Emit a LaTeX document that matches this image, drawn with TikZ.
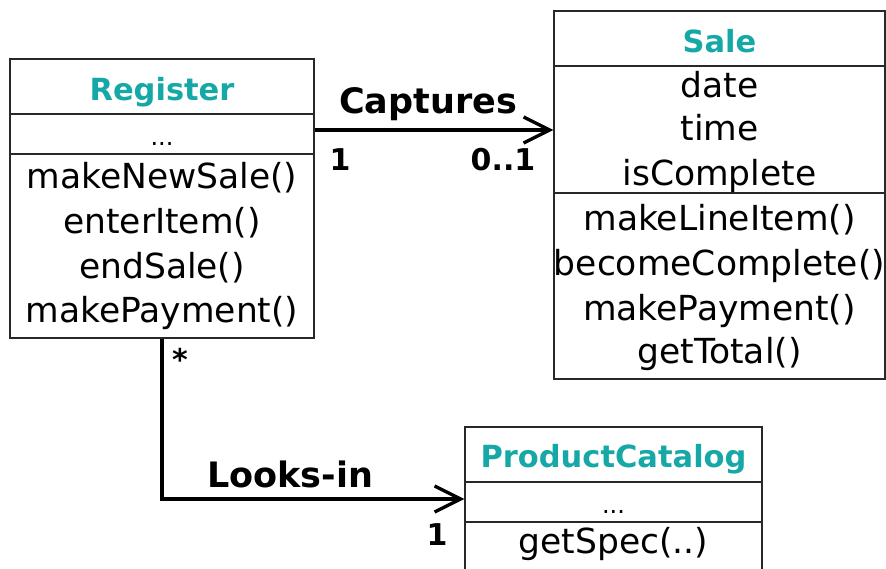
\documentclass[tikz,border=0pt]{standalone}
\usepackage{fontspec}
\usetikzlibrary{arrows.meta}
\newfontfamily\umlfamily{DejaVu Sans}
\newcommand\umlbody{\umlfamily\fontsize{34.5}{40}\selectfont}
\newcommand\umltitle{\umlfamily\bfseries\fontsize{30.5}{36}\selectfont}
\newcommand\umllabel{\umlfamily\bfseries\fontsize{35}{42}\selectfont}
\newcommand\umlmult{\umlfamily\bfseries\fontsize{30}{36}\selectfont}
\newcommand\umldots{\umlfamily\fontsize{24}{28}\selectfont}
\definecolor{classname}{RGB}{22,168,166}
\definecolor{boxline}{RGB}{40,40,40}
\tikzset{
  classbox/.style={draw=boxline, line width=1.2pt, rectangle, inner sep=0pt},
  divider/.style={draw=boxline, line width=1.2pt},
  classtitle/.style={font=\umltitle, text=classname, anchor=base, inner sep=0pt},
  member/.style={font=\umlbody, anchor=base, inner sep=0pt},
  emptyrow/.style={font=\umldots, anchor=base, inner sep=0pt},
  assoc/.style={line width=3.4pt, -{Straight Barb[length=26pt,width=26pt]}},
  assoclabel/.style={font=\umllabel, anchor=base, inner sep=0pt},
  mult/.style={font=\umlmult, anchor=base, inner sep=0pt}
}
\begin{document}
\begin{tikzpicture}[x=1pt,y=-1pt]
  \useasboundingbox (0,0) rectangle (886,568);
  \clip (0,0) rectangle (886,568);

  % Register
  \node[classbox, minimum width=304pt, minimum height=279pt] (reg) at (162,198.5) {};
  \draw[divider] (reg.west |- 0,114) -- (reg.east |- 0,114);
  \draw[divider] (reg.west |- 0,154) -- (reg.east |- 0,154);
  \node[classtitle] (regname) at (162,100) {Register};
  \node[emptyrow] (regattr) at (162,145) {...};
  \node[member] (regop1) at (162,188) {makeNewSale()};
  \node[member] (regop2) at (162,233) {enterItem()};
  \node[member] (regop3) at (162,278) {endSale()};
  \node[member] (regop4) at (162,322) {makePayment()};

  % Sale
  \node[classbox, minimum width=331pt, minimum height=368pt] (sale) at (719.5,195) {};
  \draw[divider] (sale.west |- 0,66) -- (sale.east |- 0,66);
  \draw[divider] (sale.west |- 0,193) -- (sale.east |- 0,193);
  \node[classtitle] (salename) at (719.5,52) {Sale};
  \node[member] (saleattr1) at (719.5,97) {date};
  \node[member] (saleattr2) at (719.5,140) {time};
  \node[member] (saleattr3) at (719.5,185) {isComplete};
  \node[member] (saleop1) at (719.5,230) {makeLineItem()};
  \node[member] (saleop2) at (719.5,275) {becomeComplete()};
  \node[member] (saleop3) at (719.5,320) {makePayment()};
  \node[member] (saleop4) at (719.5,363) {getTotal()};

  % ProductCatalog (runs past the lower edge)
  \node[classbox, minimum width=297pt, minimum height=173pt] (cat) at (613.5,513.5) {};
  \draw[divider] (cat.west |- 0,482) -- (cat.east |- 0,482);
  \draw[divider] (cat.west |- 0,522) -- (cat.east |- 0,522);
  \node[classtitle] (catname) at (613.5,467) {ProductCatalog};
  \node[emptyrow] (catattr) at (613.5,513) {...};
  \node[member] (catop1) at (613.5,553) {getSpec(..)};

  % Associations
  \draw[assoc] (reg.east |- 0,130) -- (sale.west |- 0,130);
  \node[assoclabel] (captures) at (428,113) {Captures};
  \node[mult] (capfrom) at (340,170) {1};
  \node[mult] (capto) at (503,170) {0..1};

  \draw[assoc] (reg.south) |- (cat.west |- 0,499);
  \node[assoclabel] (looksin) at (290,487) {Looks-in};
  \node[mult] (lookfrom) at (180,370) {*};
  \node[mult] (lookto) at (437,545) {1};
\end{tikzpicture}
\end{document}
